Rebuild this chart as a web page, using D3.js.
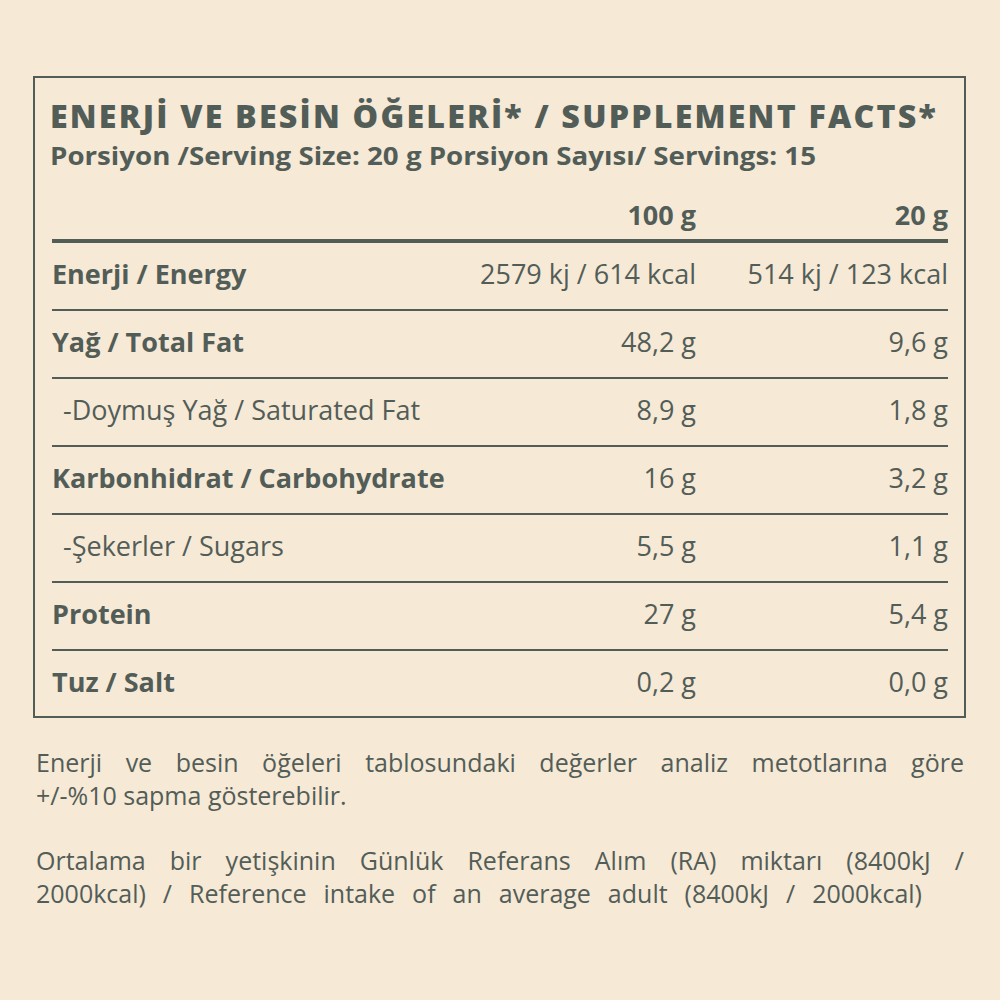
<!DOCTYPE html>
<html lang="tr">
<head>
<meta charset="UTF-8">
<script src="https://cdnjs.cloudflare.com/ajax/libs/d3/7.8.5/d3.min.js"></script>
<style>
  body { margin: 0; background: #f6e9d6; }
  text { font-family: 'Open Sans', 'Noto Sans', sans-serif; fill: #535d58; }
</style>
</head>
<body>
<svg id="chart" width="1000" height="1000"></svg>
<script>
// table data
const labels = ["Enerji / Energy", "Yağ / Total Fat", "-Doymuş Yağ / Saturated Fat", "Karbonhidrat / Carbohydrate", "-Şekerler / Sugars", "Protein", "Tuz / Salt"];
const bold = [true, true, false, true, false, true, true];
const per100 = ["2579 kj / 614 kcal", "48,2 g", "8,9 g", "16 g", "5,5 g", "27 g", "0,2 g"];
const per20 = ["514 kj / 123 kcal", "9,6 g", "1,8 g", "3,2 g", "1,1 g", "5,4 g", "0,0 g"];
const headers = ["100 g", "20 g"];
const notes = [
  ["Enerji ve besin öğeleri tablosundaki değerler analiz metotlarına göre", "+/-%10 sapma gösterebilir."],
  ["Ortalama bir yetişkinin Günlük Referans Alım (RA) miktarı (8400kJ /", "2000kcal) / Reference intake of an average adult (8400kJ / 2000kcal)"]
];

const svg = d3.select("#chart");
const col = "#535d58";

svg.append("rect").attr("x", 34).attr("y", 77).attr("width", 931).attr("height", 640)
  .attr("fill", "none").attr("stroke", col).attr("stroke-width", 2);

svg.append("text").attr("x", 50).attr("y", 128)
  .style("font-size", "32px").style("font-weight", 800).style("letter-spacing", "2.2px")
  .attr("textLength", 888).attr("lengthAdjust", "spacingAndGlyphs")
  .text("ENERJİ VE BESİN ÖĞELERİ* / SUPPLEMENT FACTS*");
svg.append("text").attr("x", 50).attr("y", 165)
  .style("font-size", "25px").style("font-weight", 700)
  .attr("textLength", 766).attr("lengthAdjust", "spacingAndGlyphs")
  .text("Porsiyon /Serving Size: 20 g Porsiyon Sayısı/ Servings: 15");

const cols = [696, 948];
headers.forEach((h, i) => svg.append("text").attr("x", cols[i]).attr("y", 225)
  .attr("text-anchor", "end").style("font-size", "27px").style("font-weight", 700).text(h));

svg.append("line").attr("x1", 52).attr("x2", 948).attr("y1", 241).attr("y2", 241)
  .attr("stroke", col).attr("stroke-width", 4);

const y = d3.scaleBand().domain(d3.range(labels.length)).range([242, 718]);

const rows = svg.selectAll("g.row").data(labels).join("g").attr("class", "row")
  .attr("transform", (d, i) => `translate(0,${y(i)})`);

rows.append("text").attr("x", (d, i) => bold[i] ? 52 : 63).attr("y", 42)
  .style("font-size", "27px").style("font-weight", (d, i) => bold[i] ? 700 : 400).text(d => d);
rows.append("text").attr("x", cols[0]).attr("y", 42).attr("text-anchor", "end")
  .style("font-size", "27px").text((d, i) => per100[i]);
rows.append("text").attr("x", cols[1]).attr("y", 42).attr("text-anchor", "end")
  .style("font-size", "27px").text((d, i) => per20[i]);
rows.filter((d, i) => i < labels.length - 1).append("line")
  .attr("x1", 52).attr("x2", 948).attr("y1", y.bandwidth()).attr("y2", y.bandwidth())
  .attr("stroke", col).attr("stroke-width", 2);

notes.forEach((para, p) => {
  para.forEach((line, l) => {
    const t = svg.append("text").attr("x", 36).attr("y", 772 + p * 98 + l * 33)
      .style("font-size", "25px").text(line);
    const len = t.node().getComputedTextLength();
    const spaces = line.split(" ").length - 1;
    const target = l === 0 ? 928 : (p === 1 ? 886 : 0);
    if (target) {
      if (len > target) t.attr("textLength", target).attr("lengthAdjust", "spacingAndGlyphs");
      else t.style("word-spacing", ((target - len) / spaces) + "px");
    }
  });
});
</script>
</body>
</html>
